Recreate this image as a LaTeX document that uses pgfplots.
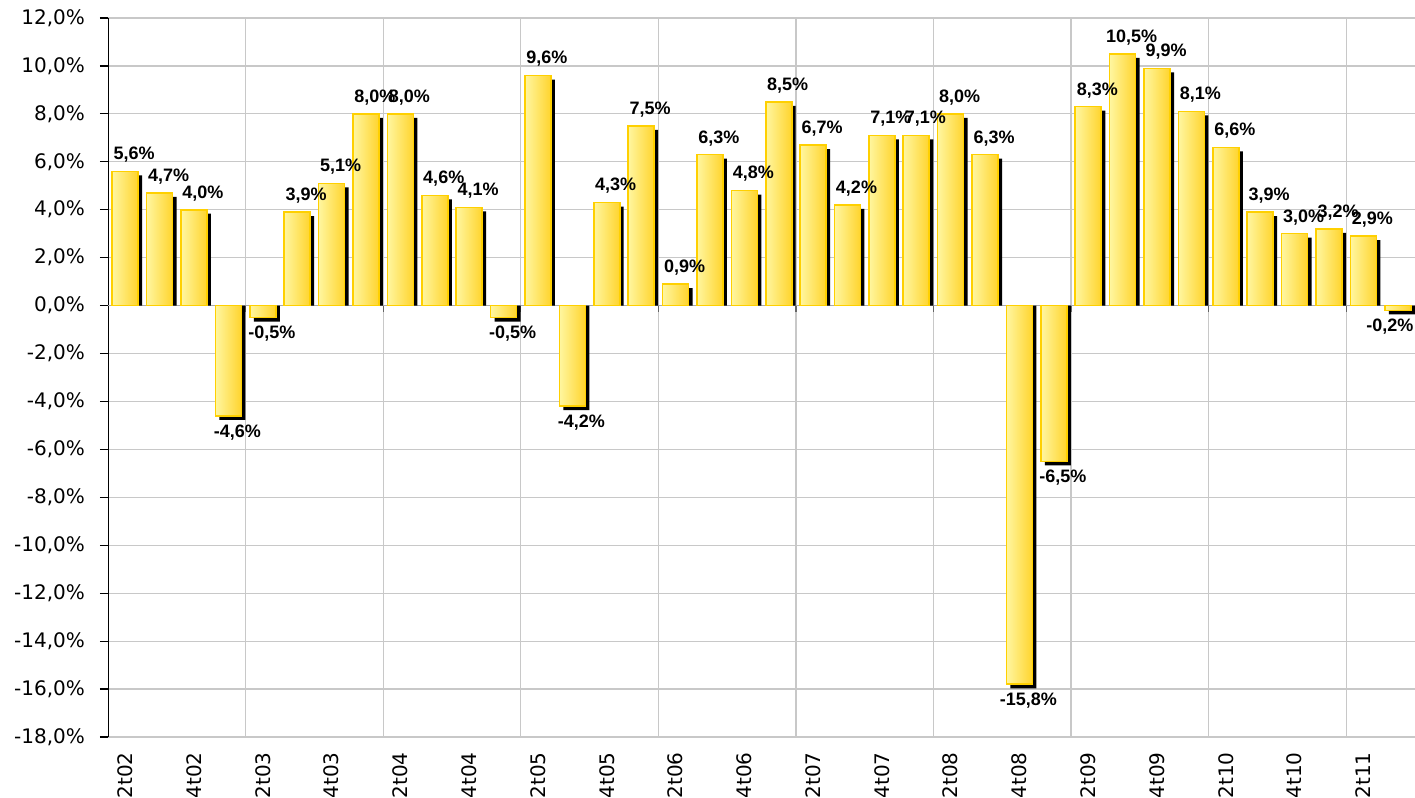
\documentclass[border=0pt]{standalone}
\usepackage{pgfplots}
\usepackage{pgfplotstable}
\pgfplotsset{compat=1.18}
\usetikzlibrary{calc}
\usepackage{fontspec}
\setmainfont{DejaVu Sans}
\newfontfamily\lblfont{Liberation Sans}
\definecolor{barlight}{RGB}{255,246,160}
\definecolor{bardark}{RGB}{255,212,45}
\definecolor{baredge}{RGB}{255,208,0}
\definecolor{gridc}{RGB}{200,200,200}

\pgfplotstableread{
x y
1 5.6
2 4.7
3 4.0
4 -4.6
5 -0.5
6 3.9
7 5.1
8 8.0
9 8.0
10 4.6
11 4.1
12 -0.5
13 9.6
14 -4.2
15 4.3
16 7.5
17 0.9
18 6.3
19 4.8
20 8.5
21 6.7
22 4.2
23 7.1
24 7.1
25 8.0
26 6.3
27 -15.8
28 -6.5
29 8.3
30 10.5
31 9.9
32 8.1
33 6.6
34 3.9
35 3.0
36 3.2
37 2.9
38 -0.2
}\growth

\pgfplotsset{
  goldbar/.style={left color=barlight, right color=bardark, draw=baredge, line width=0.8pt, bar shift=0pt,
    nodes near coords={\pgfmathprintnumber[fixed,fixed zerofill,precision=1,use comma,assume math mode=true]{\pgfplotspointmeta}\%},
    nodes near coords style={font=\lblfont\bfseries\fontsize{9}{10}\selectfont, black, xshift=4.5pt, inner sep=4pt}},
}

\begin{document}
\begin{tikzpicture}
\begin{axis}[
  scale only axis, width=653.5pt, height=359.5pt,
  xmin=0.5, xmax=38.5, ymin=-18, ymax=12,
  ybar, bar width=13pt,
  axis x line=bottom, axis y line=left,
  axis line style={-},
  x axis line style={draw=gridc},
  y axis line style={draw=black},
  xtick={1,3,...,37},
  xticklabels={2t02,4t02,2t03,4t03,2t04,4t04,2t05,4t05,2t06,4t06,2t07,4t07,2t08,4t08,2t09,4t09,2t10,4t10,2t11},
  x tick label style={rotate=90, anchor=east, font=\fontsize{10}{12}\selectfont, inner sep=0pt, xshift=-3.5pt},
  major x tick style={draw=none},
  minor xtick={4.5,8.5,...,36.5},
  minor x tick style={draw=none},
  xminorgrids,
  ytick={-18,-16,...,12},
  ymajorgrids,
  grid style={gridc, line width=0.6pt},
  minor grid style={gridc, line width=0.6pt},
  tick align=outside,
  major tick length=4pt,
  y tick style={black, line width=0.6pt},
  yticklabel={\pgfmathprintnumber{\tick}\%},
  y tick label style={font=\fontsize{10}{12}\selectfont, xshift=-4pt,
    /pgf/number format/fixed, /pgf/number format/fixed zerofill,
    /pgf/number format/precision=1, /pgf/number format/use comma,
    /pgf/number format/assume math mode=true},
  clip=false,
]
\coordinate (sw) at (rel axis cs:0,0);
\coordinate (ne) at (rel axis cs:1,1);
\draw[gridc!85!black, line width=0.6pt] (axis cs:0.5,0) -- (axis cs:38.5,0);
\foreach \t in {4.5,8.5,...,36.5} {
  \edef\temp{\noexpand\draw[gray!80!black, line width=0.6pt] (axis cs:\t,0) -- ([yshift=-3pt]axis cs:\t,0);}
  \temp
}
% shadow: offset right by bar shift, lowered by about 2pt
\addplot[fill=black, draw=none, bar shift=2pt] table[x=x, y expr=\thisrow{y}-0.167] {\growth};
% bars, one path each so that every bar gets its own gradient
\pgfplotsforeachungrouped \i in {1,...,37} {
  \pgfmathsetmacro\lo{\i-0.3}
  \pgfmathsetmacro\hi{\i+0.3}
  \edef\cmd{\noexpand\addplot[goldbar, restrict x to domain=\lo:\hi] table[x=x, y=y] {\noexpand\growth};}
  \cmd
}
% last bar: label pulled left so it stays inside the chart
\addplot[goldbar, restrict x to domain=37.7:38.3,
  nodes near coords style={xshift=-8.5pt}] table[x=x, y=y] {\growth};
\end{axis}
\pgfresetboundingbox
\path[use as bounding box] ($(sw)+(-54pt,-30.5pt)$) rectangle ($(ne)+(0,9pt)$);
\end{tikzpicture}
\end{document}
